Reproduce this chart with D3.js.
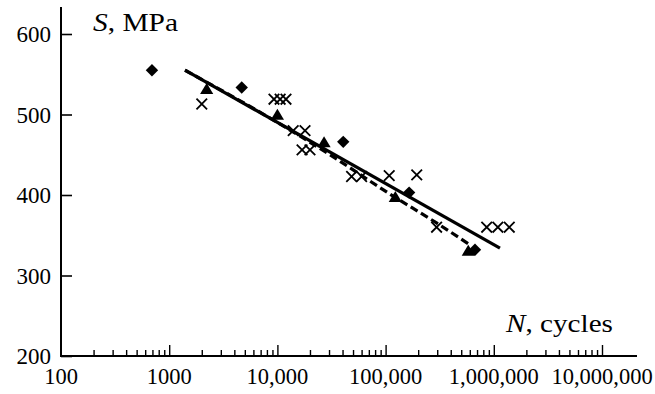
<!DOCTYPE html>
<html>
<head>
<meta charset="utf-8">
<script src="https://cdn.jsdelivr.net/npm/d3@7"></script>
<style>
  html, body { margin: 0; padding: 0; background: #fff; }
  svg { display: block; }
  text { font-family: "Liberation Serif", "Times New Roman", serif; fill: #000; }
</style>
</head>
<body>
<svg id="chart" width="655" height="394"></svg>
<script>
// ---- data ----
const xTickValues = [100, 1000, 10000, 100000, 1000000, 10000000];
const xTickLabels = ["100", "1000", "10,000", "100,000", "1,000,000", "10,000,000"];
const yTickValues = [200, 300, 400, 500, 600];

// diamonds
const diamondN = [693, 4680, 40600, 165000, 670000];
const diamondS = [555, 533.5, 466, 403, 332];
// triangles
const triangleN = [2220, 10000, 27000, 123000, 581000];
const triangleS = [530, 498, 464, 396, 329];
// crosses
const crossN = [2000, 9300, 10600, 12000, 14000, 18000, 16900, 20000, 48500, 60000, 108000, 194000, 296000, 860000, 1090000, 1390000];
const crossS = [513, 519, 519, 519, 480, 480, 456, 456, 423, 423, 424, 425, 360, 360, 360, 360];
// solid fit line
const solidN = [1400, 1140000];
const solidS = [555, 334];
// dashed fit curve
const dashN = [1400, 8550, 30600, 110000, 298000, 603000];
const dashS = [555, 495.5, 450, 401, 365, 338];

// ---- layout ----
const svg = d3.select("#chart");
const x = d3.scaleLog().domain([100, 1e7]).range([61, 602]);
const y = d3.scaleLinear().domain([200, 600]).range([356, 34]);
const axisRight = 637, axisTop = 7;

// axes lines
svg.append("line").attr("x1", x(100)).attr("x2", x(100)).attr("y1", axisTop).attr("y2", y(200) + 1)
  .attr("stroke", "#000").attr("stroke-width", 2);
svg.append("line").attr("x1", x(100) - 1).attr("x2", axisRight).attr("y1", y(200)).attr("y2", y(200))
  .attr("stroke", "#000").attr("stroke-width", 2);

// y ticks (inward)
const yAxis = d3.axisRight(y).tickValues(yTickValues).tickSize(11).tickFormat("");
const gy = svg.append("g").attr("transform", `translate(${x(100)},0)`).call(yAxis);
gy.select(".domain").remove();
gy.selectAll(".tick line").attr("stroke", "#000").attr("stroke-width", 1.6);
svg.selectAll(".ylab").data(yTickValues).enter().append("text")
  .attr("x", 51).attr("y", d => y(d) + 8)
  .attr("text-anchor", "end").attr("font-size", 23).text(d => d);

// x ticks: minor
const minorVals = [];
for (let dec = 100; dec < 1e7; dec *= 10) for (let k = 2; k <= 9; k++) minorVals.push(dec * k);
const xMinor = d3.axisTop(x).tickValues(minorVals).tickSize(6).tickFormat("");
const gxm = svg.append("g").attr("transform", `translate(0,${y(200)})`).call(xMinor);
gxm.select(".domain").remove();
gxm.selectAll(".tick line").attr("stroke", "#000").attr("stroke-width", 1.4);
const xMajor = d3.axisTop(x).tickValues(xTickValues.slice(1)).tickSize(11).tickFormat("");
const gxM = svg.append("g").attr("transform", `translate(0,${y(200)})`).call(xMajor);
gxM.select(".domain").remove();
gxM.selectAll(".tick line").attr("stroke", "#000").attr("stroke-width", 1.4);
svg.selectAll(".xlab").data(xTickValues).enter().append("text")
  .attr("x", d => x(d)).attr("y", 384)
  .attr("text-anchor", "middle").attr("font-size", 22.5)
  .text((d, i) => xTickLabels[i]);

// axis titles
const t1 = svg.append("text").attr("x", 93).attr("y", 31).attr("font-size", 25)
  .attr("textLength", 85).attr("lengthAdjust", "spacingAndGlyphs");
t1.append("tspan").attr("font-style", "italic").text("S");
t1.append("tspan").text(", MPa");
const t2 = svg.append("text").attr("x", 506).attr("y", 332).attr("font-size", 25)
  .attr("textLength", 107).attr("lengthAdjust", "spacingAndGlyphs");
t2.append("tspan").attr("font-style", "italic").text("N");
t2.append("tspan").text(", cycles");

// lines
const line = d3.line().x(d => x(d[0])).y(d => y(d[1]));
svg.append("path").datum(solidN.map((n, i) => [n, solidS[i]]))
  .attr("d", line).attr("fill", "none").attr("stroke", "#000").attr("stroke-width", 3.2);
svg.append("path").datum(dashN.map((n, i) => [n, dashS[i]]))
  .attr("d", line.curve(d3.curveMonotoneX)).attr("fill", "none").attr("stroke", "#000")
  .attr("stroke-width", 3.2).attr("stroke-dasharray", "8,4");

// markers
svg.selectAll(".tri").data(triangleN.map((n, i) => [n, triangleS[i]])).enter().append("path")
  .attr("d", d => {
    const cx = x(d[0]), cy = y(d[1]);
    return `M${cx},${cy - 7.3}L${cx + 6.6},${cy + 3.7}L${cx - 6.6},${cy + 3.7}Z`;
  }).attr("fill", "#000");
svg.selectAll(".dia").data(diamondN.map((n, i) => [n, diamondS[i]])).enter().append("path")
  .attr("d", d => {
    const cx = x(d[0]), cy = y(d[1]), r = 6.2;
    return `M${cx},${cy - r}L${cx + r},${cy}L${cx},${cy + r}L${cx - r},${cy}Z`;
  }).attr("fill", "#000");
svg.selectAll(".crs").data(crossN.map((n, i) => [n, crossS[i]])).enter().append("path")
  .attr("d", d => {
    const cx = x(d[0]), cy = y(d[1]), r = 5.3;
    return `M${cx - r},${cy - r}L${cx + r},${cy + r}M${cx - r},${cy + r}L${cx + r},${cy - r}`;
  }).attr("fill", "none").attr("stroke", "#000").attr("stroke-width", 1.8);
</script>
</body>
</html>
